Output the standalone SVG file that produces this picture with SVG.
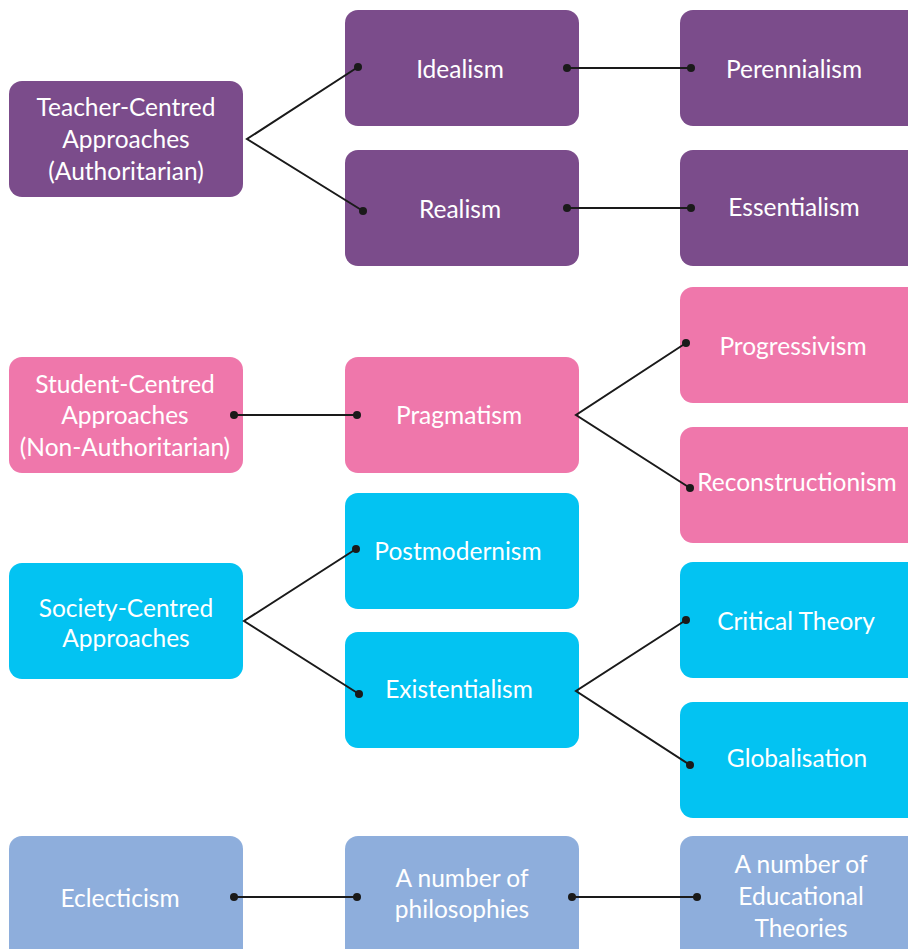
<svg xmlns="http://www.w3.org/2000/svg" width="908" height="949" viewBox="0 0 908 949">
<defs>
<style>
.box{stroke:none}
.p{fill:#7b4c8b}
.k{fill:#ef77ab}
.c{fill:#03c3f2}
.b{fill:#8eaedc}
text{font-family:Lato,"Open Sans",sans-serif;font-size:24.5px;fill:#ffffff;text-anchor:middle;dominant-baseline:central}
.ln{stroke:#1a1a1a;stroke-width:2;fill:none}
.dot{fill:#1a1a1a}
</style>
</defs>
<rect width="908" height="949" fill="#ffffff"/>
<g id="teacher"><rect class="box p" x="9" y="81" width="234" height="116" rx="13"/><text x="126" y="106">Teacher-Centred</text><text x="126" y="138">Approaches</text><text x="126" y="170">(Authoritarian)</text></g>
<g id="idealism"><rect class="box p" x="345" y="10" width="234" height="116" rx="13"/><text x="460" y="68">Idealism</text></g>
<g id="realism"><rect class="box p" x="345" y="150" width="234" height="116" rx="13"/><text x="460" y="208">Realism</text></g>
<g id="perennialism"><rect class="box p" x="680" y="10" width="240" height="116" rx="13"/><text x="794" y="68">Perennialism</text></g>
<g id="essentialism"><rect class="box p" x="680" y="150" width="240" height="116" rx="13"/><text x="794" y="206">Essentialism</text></g>
<g id="student"><rect class="box k" x="9" y="357" width="234" height="116" rx="13"/><text x="125" y="383">Student-Centred</text><text x="125" y="414">Approaches</text><text x="125" y="446">(Non-Authoritarian)</text></g>
<g id="pragmatism"><rect class="box k" x="345" y="357" width="234" height="116" rx="13"/><text x="459" y="414">Pragmatism</text></g>
<g id="progressivism"><rect class="box k" x="680" y="287" width="240" height="116" rx="13"/><text x="793" y="345">Progressivism</text></g>
<g id="reconstructionism"><rect class="box k" x="680" y="427" width="240" height="116" rx="13"/><text x="797" y="481">Reconstructionism</text></g>
<g id="society"><rect class="box c" x="9" y="563" width="234" height="116" rx="13"/><text x="126" y="607">Society-Centred</text><text x="126" y="637">Approaches</text></g>
<g id="postmodernism"><rect class="box c" x="345" y="493" width="234" height="116" rx="13"/><text x="458" y="550">Postmodernism</text></g>
<g id="existentialism"><rect class="box c" x="345" y="632" width="234" height="116" rx="13"/><text x="459" y="688">Existentialism</text></g>
<g id="critical"><rect class="box c" x="680" y="562" width="240" height="116" rx="13"/><text x="796" y="620">Critical Theory</text></g>
<g id="globalisation"><rect class="box c" x="680" y="702" width="240" height="116" rx="13"/><text x="797" y="757">Globalisation</text></g>
<g id="eclecticism"><rect class="box b" x="9" y="836" width="234" height="130" rx="13"/><text x="120" y="897">Eclecticism</text></g>
<g id="philosophies"><rect class="box b" x="345" y="836" width="234" height="130" rx="13"/><text x="462" y="877">A number of</text><text x="462" y="908">philosophies</text></g>
<g id="theories"><rect class="box b" x="680" y="836" width="240" height="130" rx="13"/><text x="801" y="863">A number of</text><text x="801" y="895">Educational</text><text x="801" y="927">Theories</text></g>
<g id="connectors">
<polyline class="ln" points="358,67 247,139 363,211"/>
<line class="ln" x1="567" y1="68" x2="691" y2="68"/>
<line class="ln" x1="567" y1="208" x2="691" y2="208"/>
<line class="ln" x1="234" y1="415" x2="357" y2="415"/>
<polyline class="ln" points="686,343 576,415 690,488"/>
<polyline class="ln" points="356,549 244,621 359,694"/>
<polyline class="ln" points="686,620 576,691 690,765"/>
<line class="ln" x1="234" y1="897" x2="357" y2="897"/>
<line class="ln" x1="572" y1="897" x2="697" y2="897"/>
<circle class="dot" cx="358" cy="67" r="4"/><circle class="dot" cx="363" cy="211" r="4"/>
<circle class="dot" cx="567" cy="68" r="4"/><circle class="dot" cx="691" cy="68" r="4"/>
<circle class="dot" cx="567" cy="208" r="4"/><circle class="dot" cx="691" cy="208" r="4"/>
<circle class="dot" cx="234" cy="415" r="4"/><circle class="dot" cx="357" cy="415" r="4"/>
<circle class="dot" cx="686" cy="343" r="4"/><circle class="dot" cx="690" cy="488" r="4"/>
<circle class="dot" cx="356" cy="549" r="4"/><circle class="dot" cx="359" cy="694" r="4"/>
<circle class="dot" cx="686" cy="620" r="4"/><circle class="dot" cx="690" cy="765" r="4"/>
<circle class="dot" cx="234" cy="897" r="4"/><circle class="dot" cx="357" cy="897" r="4"/>
<circle class="dot" cx="572" cy="897" r="4"/><circle class="dot" cx="697" cy="897" r="4"/>
</g>
</svg>
